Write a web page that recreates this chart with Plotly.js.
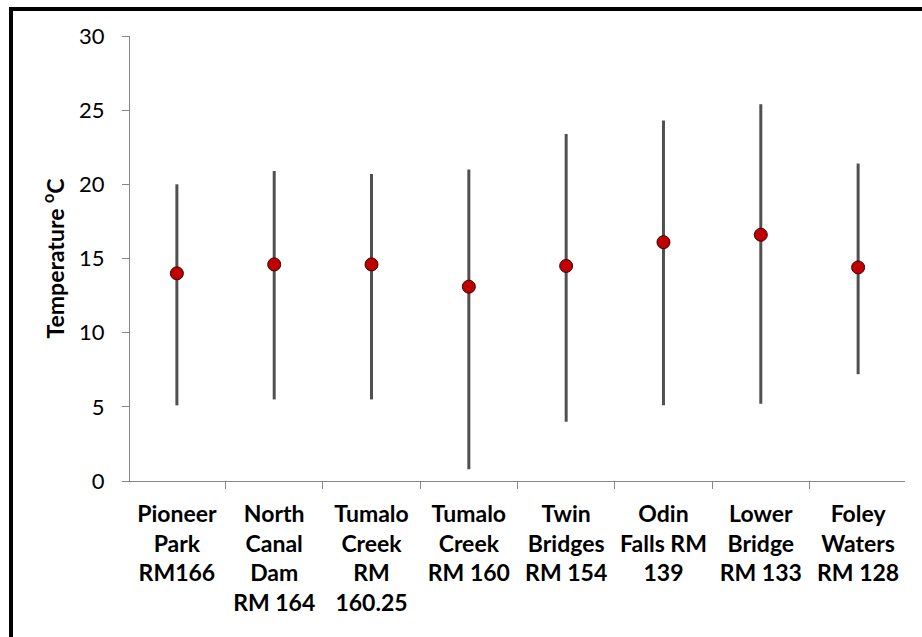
<!DOCTYPE html>
<html>
<head>
<meta charset="utf-8">
<script src="https://cdn.plot.ly/plotly-3.0.1.min.js"></script>
<style>
  html, body { margin: 0; padding: 0; background: #fff; }
  #wrap { position: relative; width: 922px; height: 637px; overflow: hidden; }
  #chart { position: absolute; left: 0; top: 0; width: 922px; height: 637px; }
  #frame { position: absolute; left: 9px; top: 7px; right: -10px; bottom: -10px;
           border-top: 4px solid #000; border-left: 4px solid #000; pointer-events: none; }
</style>
</head>
<body>
<div id="wrap">
  <div id="chart"></div>
  <div id="frame"></div>
</div>
<script>
const sites = [
  "Pioneer<br>Park<br>RM166",
  "North<br>Canal<br>Dam<br>RM 164",
  "Tumalo<br>Creek<br>RM<br>160.25",
  "Tumalo<br>Creek<br>RM 160",
  "Twin<br>Bridges<br>RM 154",
  "Odin<br>Falls RM<br>139",
  "Lower<br>Bridge<br>RM 133",
  "Foley<br>Waters<br>RM 128"
];
const meanTemp = [14.0, 14.6, 14.6, 13.1, 14.5, 16.1, 16.6, 14.4];
const maxTemp  = [20.0, 20.9, 20.7, 21.0, 23.4, 24.3, 25.4, 21.4];
const minTemp  = [5.1, 5.5, 5.5, 0.8, 4.0, 5.1, 5.2, 7.2];
const yTicks = [0, 5, 10, 15, 20, 25, 30];

const plusErr = maxTemp.map((v, i) => v - meanTemp[i]);
const minusErr = minTemp.map((v, i) => meanTemp[i] - v);

const FONT = "Lato, 'Liberation Sans', sans-serif";

const trace = {
  type: "scatter",
  mode: "markers",
  x: sites,
  y: meanTemp,
  marker: { size: 13, color: "#C00000", line: { color: "#3a0000", width: 1 } },
  error_y: {
    type: "data", symmetric: false,
    array: plusErr, arrayminus: minusErr,
    color: "#505050", thickness: 3, width: 0
  },
  hoverinfo: "skip"
};

const layout = {
  width: 922, height: 637,
  margin: { l: 130, r: 17, t: 36, b: 156 },
  paper_bgcolor: "#fff", plot_bgcolor: "#fff",
  showlegend: false,
  font: { family: FONT, color: "#000" },
  xaxis: {
    type: "category",
    tickson: "boundaries",
    ticks: "outside", ticklen: 7, tickcolor: "#868686",
    showline: true, linecolor: "#868686", linewidth: 1,
    showgrid: false, zeroline: false,
    tickfont: { size: 23, family: FONT, color: "#000", weight: "bold" },
    ticklabelstandoff: 12,
    tickangle: 0
  },
  yaxis: {
    range: [0, 30],
    tickvals: yTicks,
    ticks: "outside", ticklen: 7, tickcolor: "#868686",
    showline: true, linecolor: "#868686", linewidth: 1,
    showgrid: false, zeroline: false,
    tickfont: { size: 22, family: FONT, color: "#000" },
    ticklabelstandoff: 13,
    title: {
      text: "Temperature <sup>o</sup>C",
      font: { size: 23, family: FONT, color: "#000", weight: "bold" },
      standoff: 8
    }
  }
};

Plotly.newPlot("chart", [trace], layout, { displayModeBar: false, staticPlot: true });
</script>
</body>
</html>
